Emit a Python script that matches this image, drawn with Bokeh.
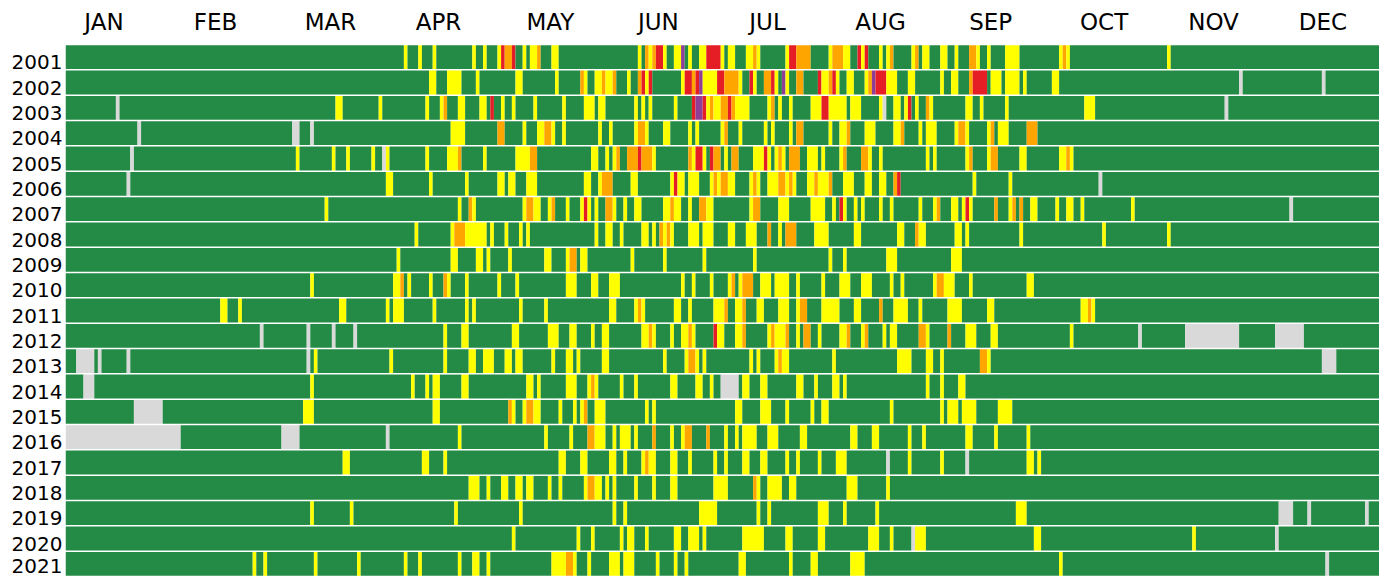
import re
from bokeh.plotting import figure
from bokeh.models import Range1d, FixedTicker, ColumnDataSource
from bokeh.embed import file_html
from bokeh.resources import INLINE

years = list(range(2001, 2022))
months = ["JAN", "FEB", "MAR", "APR", "MAY", "JUN", "JUL", "AUG", "SEP", "OCT", "NOV", "DEC"]
month_label_pos = [10.7, 41.7, 73.6, 103.6, 134.7, 164.7, 195.0, 226.4, 257.0, 288.5, 318.9, 349.3]

category_colors = {
    "g": "#248B46",  # good
    "y": "#FFFF00",  # moderate
    "o": "#FFA500",  # unhealthy for sensitive groups
    "r": "#E41E24",  # unhealthy
    "p": "#8E3E97",  # very unhealthy
    "x": "#D9D9D9",  # no data
}

# Non-"good" days per year: "<first day index><category><number of days>"; all other days are good (green)
events = [
    "94y1 98y1 102y1 113y1 116y1 120y1 121r1 122o2 124r1 127y1 129y2 131o1 135y2 159y1 161o1 162y1 163o1 164r2 166y1 169y2 171p1 173y1 176y2 178r4 182y1 184y2 189y2 191o1 192y1 200y1 201r2 203o4 212y1 213o3 216y1 217y1 220r1 221y1 222r1 226y1 228y1 229o1 235y1 236o1 238y2 243y2 247y1 251o2 253y1 256y1 261y4 276y1 277o1 278y1 306y1",
    "101y2 106y4 114y1 125y2 136y1 143o1 144y1 147y2 149o1 150y2 152o1 156y1 159o1 160r1 161y1 162r1 171y1 172r2 174o1 175r1 176p1 177y4 181r2 183o4 187y1 190r1 191y1 194o2 196r1 197y1 199p1 200y1 203o2 209r1 210y2 212o1 213r1 214y1 217y2 222y1 223o1 224p1 225r3 228y3 234y2 243y1 246y2 251o1 252r3 255r1 257y3 261y4 266y1 274y2 326x1 349x1",
    "14x1 75y2 87y1 100y1 104y1 105o1 109y2 115y2 118r1 121y1 124y1 130y1 138y1 144y3 148y2 158y1 160y1 162y1 169y1 174r1 175p2 177r1 178y1 179o1 180y2 182o2 184r1 185o1 186y4 195y1 196o1 198y1 201y1 207y3 210r2 212y4 216y1 218y3 226y1 227x1 230y2 233y1 234r1 236y1 239o1 240y1 250y2 254y1 261y1 283y3 322x1",
    "20x1 63x2 68x1 107y4 120o2 127y1 131y2 133o2 135y1 138y1 148y1 151y1 158y1 159o2 161y1 166y2 173y1 175y1 182y1 183o1 187y1 194y1 196y1 201y1 203o2 212y1 215y2 217o1 222y3 230y2 232o1 237y1 239y3 247y1 248o2 250y1 256y1 257o1 259y3 267o3",
    "18x1 64y1 74y1 78y1 85y1 88x1 89y1 100y1 106y3 109o1 116y1 125y4 129o2 146y2 150y1 152y1 153o1 156o3 159r1 160o3 163y1 173o1 174y1 175r2 177y1 179r1 180o2 183y1 185o2 191y3 194r1 195y1 197y1 198o1 199y1 201o3 206y3 210y1 215y1 216o1 221o2 223y1 226y1 239y1 241y1 250y1 251o1 256y1 257o2 265y2 276y2 278o1 279y1",
    "17x1 89y2 101y1 111y1 120y2 123y2 128y3 144y2 148y1 149o3 157y2 168y1 169r1 170y1 171y1 173y3 175y1 179y1 180o1 181y1 182o2 184y2 190y1 191o1 192y1 195y3 198o2 200y1 201o1 202y1 206y2 208o1 209y3 212o1 216y3 222y2 226y2 230o1 231r1 252y1 262y1 287x1",
    "72y1 109y1 112o1 113y1 127y1 128o2 130y2 134y1 135o1 139y1 143y1 144r1 145y1 147y1 150o2 152y1 155y1 158y2 166y2 168o1 169y2 173y1 176o2 178y2 190y1 191o2 198y3 207y4 213y1 215r1 216y1 219y1 221y1 226y1 229y1 237y1 241y1 242o1 246y2 249y1 250r1 251y1 258o1 262y1 263o1 265o1 268y2 275y1 278y2 282y1 296y1 340x1",
    "97y1 107y1 108o3 111y6 118y1 122y1 126y1 128y1 147y1 150y2 154y1 160y2 163y1 165o1 166y1 167o1 168y1 173y3 175y1 177y3 184y2 189y3 195o1 198y1 200o3 208y4 219y2 231y2 236o1 237y2 247y2 250y1 265y1 288y1 306y1",
    "92y1 107y2 114y2 117y1 123y1 133y2 139y1 140o2 143y2 157y1 166y1 177y1 191y1 212y1 216y1 228y3 246y3",
    "68y1 91y2 93o1 95y1 101y1 105o1 106y1 111y1 120y1 125y1 139y3 146y2 151y3 171y1 174y1 179y1 184y1 185o1 187y1 188o3 193y3 197y3 200y1 203y1 210y1 215y3 221y3 229y1 232y1 241y1 242o2 244y3 251y1 267y2",
    "43y2 48y1 76y2 89y1 91y3 102y1 111y1 113y1 126y1 133y1 151y2 158y1 159o1 160y1 169y2 173y1 180y1 181y1 182y1 183o1 186y1 187y1 188o1 192y2 198y3 203y1 204o2 210y5 219y2 226o1 230y4 237y1 245y4 256y2 282y2 284o1 285y1",
    "54x1 67x1 74x1 80x1 105y1 110y2 124y2 134y1 135y2 140y2 146y1 149y2 160y2 162o1 163y1 168y1 171y3 173o1 174y1 180r1 181y2 186y1 187y1 188o1 195y1 196o1 197y3 200o1 203y1 205o2 209y1 215y1 216y1 217o1 221y1 222o1 227y1 229y2 237o2 239y1 245o1 250y3 257y2 279y1 298x1 311x15 336x8",
    "3x5 9x1 17x1 67x1 69y1 90y1 105y1 112y2 116y3 122y2 125y2 135y1 139y2 142y1 149y2 166y1 172y1 173o2 175y1 177y1 190y1 192y1 197y1 198o1 199y2 213y1 231y4 239y2 243y1 254o1 255o1 256y1 349x4",
    "5x3 68y1 96y1 100y1 102y2 110y2 128y2 131y1 139y3 145y1 146o1 147y1 154y1 158y1 168y2 175y2 179y1 182x5 188y2 193y2 203y2 208y1 213y2 216y1 239y1 243y1 248y2",
    "19x8 66y3 102y2 123o1 124y1 127y1 128o2 130y2 137y1 141y1 143y1 144o1 147y3 161y1 163y1 186y2 193y3 200y1 207y1 210y2 229y1 243y1 245y3 249y4 259y4",
    "0x32 60x5 89x1 109y1 133y1 140y1 145o2 147y3 152y1 154y3 158y1 163o1 168y1 171y1 172o2 178o1 183y1 186y1 188y4 195y3 204y2 218y2 224y2 234y1 238y1 250y2 258y1 267y1",
    "77y2 99y2 105y1 137y2 143y2 151y2 155y1 160y1 161o1 162y2 168y2 173y1 180y1 183y1 188y2 193y2 200y1 203y1 209y1 214y3 228x1 234y1 243y1 250x1 267y2 270y1",
    "112y3 117y1 121y2 125y2 128y2 134y1 137y1 144y1 145o2 147y2 150y1 152y1 158y1 163y1 168y2 180y4 191o1 192y1 195y4 201y2 217y3 228y1",
    "68y1 79y1 108y1 126y1 152y1 155y1 176y5 192y1 195y1 209y3 216y1 225y1 264y3 337x4 345x1 361x1",
    "124y1 142y1 146y1 154y1 156y2 161y1 169y2 173y3 177y1 188y6 200y2 209y2 223y3 229y1 235x1 236y3 269y2 313y1 336x1",
    "52y1 55y1 69y1 81y1 94y1 98y1 109y1 113y2 117y1 135y4 139o2 141y1 145y1 151y3 155y3 164y1 169y1 172y1 187y2 201y1 207y2 218y4 276y1 350x1",
]

N_DAYS = 365
ROW_SHIFT = 0.21   # label sits slightly below the row centre
ROW_H = 0.94

left, right, top, bottom, color = [], [], [], [], []
for yr, ev in zip(years, events):
    days = ["g"] * N_DAYS
    for tok in ev.split():
        m = re.match(r"(\d+)([a-z])(\d+)", tok)
        s, c, n = int(m.group(1)), m.group(2), int(m.group(3))
        for d in range(s, min(s + n, N_DAYS)):
            days[d] = c
    start = 0
    for d in range(1, N_DAYS + 1):
        if d == N_DAYS or days[d] != days[start]:
            left.append(start)
            right.append(d)
            yc = yr - ROW_SHIFT
            top.append(yc - ROW_H / 2)
            bottom.append(yc + ROW_H / 2)
            color.append(category_colors[days[start]])
            start = d

src = ColumnDataSource(dict(left=left, right=right, top=top, bottom=bottom, color=color))

p = figure(width=1379, height=578,
           x_range=Range1d(0, N_DAYS),
           y_range=Range1d(years[-1] + 0.5 - ROW_SHIFT, years[0] - 0.5 - ROW_SHIFT),
           x_axis_location="above",
           output_backend="svg", toolbar_location=None,
           min_border_left=65, min_border_top=44, min_border_right=0, min_border_bottom=2)

p.quad(left="left", right="right", top="top", bottom="bottom", fill_color="color",
       line_color=None, source=src)

p.grid.visible = False
p.outline_line_color = None
p.background_fill_color = "white"
p.border_fill_color = "white"

xa = p.xaxis[0]
xa.ticker = FixedTicker(ticks=month_label_pos)
xa.major_label_overrides = {pos: name for pos, name in zip(month_label_pos, months)}
xa.axis_line_color = None
xa.major_tick_line_color = None
xa.minor_tick_line_color = None
xa.major_tick_out = 0
xa.major_label_standoff = 10
xa.major_label_text_font = "DejaVu Sans"
xa.major_label_text_font_size = "23px"
xa.major_label_text_color = "black"

# year label positions (last one nudged up so it stays inside the canvas)
year_tick_pos = [float(y) for y in years[:-1]] + [years[-1] - 0.13]
ya = p.yaxis[0]
ya.ticker = FixedTicker(ticks=year_tick_pos)
ya.major_label_overrides = {pos: str(y) for pos, y in zip(year_tick_pos, years)}
ya.axis_line_color = None
ya.major_tick_line_color = None
ya.minor_tick_line_color = None
ya.major_tick_out = 0
ya.major_label_standoff = 3
ya.major_label_text_font = "DejaVu Sans"
ya.major_label_text_font_size = "20px"
ya.major_label_text_color = "black"

open("out.html", "w").write(file_html(p, INLINE))
